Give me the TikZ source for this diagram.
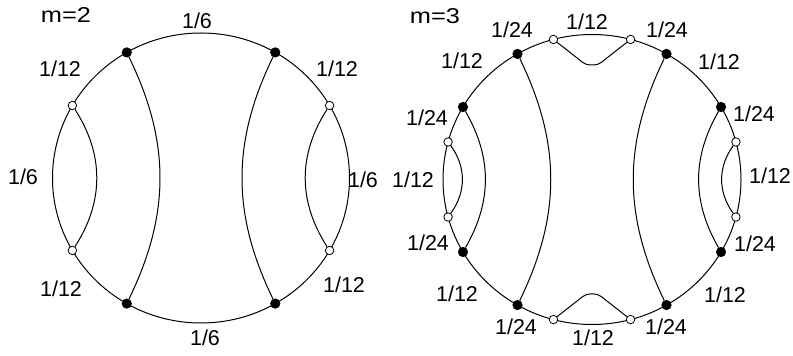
\documentclass[tikz,border=0pt]{standalone}
\usepackage{fontspec}
\setmainfont{Liberation Sans}
\begin{document}
\begin{tikzpicture}[x=1pt,y=1pt,
  rim/.style={line width=1pt},
  chord/.style={line width=1pt},
  bdot/.style={circle,fill=black,draw=black,line width=0.6pt,inner sep=0pt,minimum size=9.5pt},
  wdot/.style={circle,fill=white,draw=black,line width=0.8pt,inner sep=0pt,minimum size=8.5pt},
  lab/.style={font=\fontsize{21.5}{22}\selectfont,inner sep=0pt,text=black},
  mlab/.style={lab,xscale=1.18}]
\useasboundingbox (0,0) rectangle (793,356);
% ---------- m=2 ----------
\begin{scope}[shift={(201,178)}]
  \draw[rim] (0,0) ellipse (148.5pt and 145pt);
  \node[bdot] (L60)  at (60:148.5pt and 145pt) {};
  \node[bdot] (L120) at (120:148.5pt and 145pt) {};
  \node[bdot] (L240) at (240:148.5pt and 145pt) {};
  \node[bdot] (L300) at (300:148.5pt and 145pt) {};
  \node[wdot] (L30)  at (30:148.5pt and 145pt) {};
  \node[wdot] (L150) at (150:148.5pt and 145pt) {};
  \node[wdot] (L210) at (210:148.5pt and 145pt) {};
  \node[wdot] (L330) at (330:148.5pt and 145pt) {};
  \draw[chord] (L120) to[bend left=26] (L240);
  \draw[chord] (L60) to[bend right=26] (L300);
  \draw[chord] (L150) to[bend left=33] (L210);
  \draw[chord] (L30) to[bend right=33] (L330);
\end{scope}
\node[mlab] (m2) at (66,341) {m=2};
\node[lab] (a1) at (197,335) {1/6};
\node[lab] (a2) at (60,287) {1/12};
\node[lab] (a3) at (337,287) {1/12};
\node[lab] (a4) at (23,179) {1/6};
\node[lab] (a5) at (363,176) {1/6};
\node[lab] (a6) at (61,67) {1/12};
\node[lab] (a7) at (344,71) {1/12};
\node[lab] (a8) at (205,18) {1/6};
% ---------- m=3 ----------
\begin{scope}[shift={(592,176.5)}]
  \draw[rim] (0,0) ellipse (149pt and 145pt);
  \foreach \a in {30,60,120,150,210,240,300,330}
    \node[bdot] (R\a) at (\a:149pt and 145pt) {};
  \foreach \a in {15,75,105,165,195,255,285,345}
    \node[wdot] (R\a) at (\a:149pt and 145pt) {};
  \coordinate (T1) at (-6,114.5);
  \coordinate (T2) at (6,114.5);
  \coordinate (B1) at (-6,-114.5);
  \coordinate (B2) at (6,-114.5);
  \draw[chord] (R120) to[bend left=26] (R240);
  \draw[chord] (R60) to[bend right=26] (R300);
  \draw[chord] (R150) to[bend left=30] (R210);
  \draw[chord] (R30) to[bend right=30] (R330);
  \draw[chord] (R165) to[bend left=36] (R195);
  \draw[chord] (R15) to[bend right=36] (R345);
  \draw[chord,rounded corners=4pt] (R105) -- (T1) -- (T2) -- (R75);
  \draw[chord,rounded corners=4pt] (R255) -- (B1) -- (B2) -- (R285);
\end{scope}
\node[mlab] (m3) at (435,340) {m=3};
\node[lab] (b1) at (587,334) {1/12};
\node[lab] (b2) at (512,326) {1/24};
\node[lab] (b3) at (667,326) {1/24};
\node[lab] (b4) at (462,295) {1/12};
\node[lab] (b5) at (719,294) {1/12};
\node[lab] (b6) at (427,238) {1/24};
\node[lab] (b7) at (754,242) {1/24};
\node[lab] (b8) at (413,176) {1/12};
\node[lab] (b9) at (770,180) {1/12};
\node[lab] (b10) at (428,113) {1/24};
\node[lab] (b11) at (755,112) {1/24};
\node[lab] (b12) at (457,62) {1/12};
\node[lab] (b13) at (725,61) {1/12};
\node[lab] (b14) at (516,29) {1/24};
\node[lab] (b15) at (666,29) {1/24};
\node[lab] (b16) at (593,18) {1/12};
\end{tikzpicture}
\end{document}
